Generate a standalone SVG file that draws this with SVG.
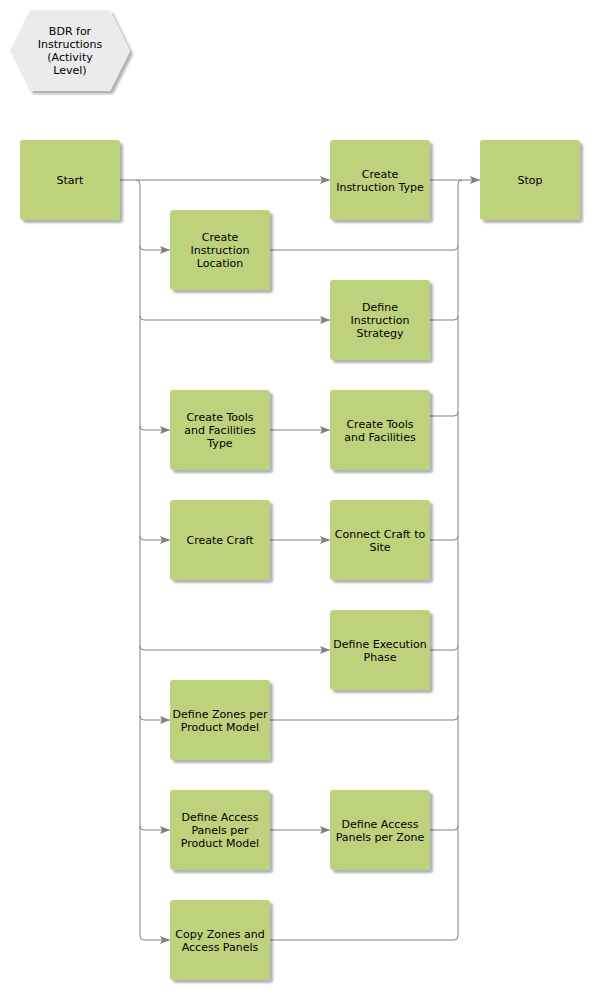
<svg xmlns="http://www.w3.org/2000/svg" width="590" height="990" viewBox="0 0 590 990">
<defs>
<filter id="sh" x="-10%" y="-10%" width="130%" height="130%">
<feDropShadow dx="3" dy="3" stdDeviation="1.2" flood-color="#000" flood-opacity="0.3"/>
</filter>
<marker id="ar" viewBox="0 0 10 8" refX="10" refY="4" markerWidth="10" markerHeight="8" markerUnits="userSpaceOnUse" orient="auto">
<path d="M0,0 L10,4 L0,8 L2,4 Z" fill="#808080"/>
</marker>
</defs>
<style>
.n{fill:#bdd27d;filter:url(#sh)}
.h{fill:#ebebeb;filter:url(#sh)}
text{font-family:"DejaVu Sans",Verdana,sans-serif;font-size:11px;fill:#000;text-anchor:middle}
.c path{fill:none;stroke:#808080;stroke-width:1}
.a{marker-end:url(#ar)}
</style>
<g id="title"><polygon class="h" points="10,51 30,10 110,10 130,51 110,91 30,91"/>
<text x="70" y="35">BDR for</text><text x="70" y="48">Instructions</text><text x="70" y="61">(Activity</text><text x="70" y="74">Level)</text></g>
<g class="c" id="connectors">
<path class="a" d="M120,180 H330"/>
<path class="a" d="M136,180 Q140,180 140,184 V936 Q140,940 144,940 H170"/>
<path class="a" d="M140,246 Q140,250 144,250 H170"/>
<path class="a" d="M140,316 Q140,320 144,320 H330"/>
<path class="a" d="M140,426 Q140,430 144,430 H170"/>
<path class="a" d="M140,536 Q140,540 144,540 H170"/>
<path class="a" d="M140,646 Q140,650 144,650 H330"/>
<path class="a" d="M140,716 Q140,720 144,720 H170"/>
<path class="a" d="M140,826 Q140,830 144,830 H170"/>
<path class="a" d="M270,430 H330"/>
<path class="a" d="M270,540 H330"/>
<path class="a" d="M270,830 H330"/>
<path class="a" d="M430,180 H480"/>
<path d="M270,940 H454 Q458,940 458,936 V184 Q458,180 462,180"/>
<path d="M270,250 H454 Q458,250 458,246"/>
<path d="M430,320 H454 Q458,320 458,316"/>
<path d="M430,416 H454 Q458,416 458,412"/>
<path d="M430,540 H454 Q458,540 458,536"/>
<path d="M430,650 H454 Q458,650 458,646"/>
<path d="M270,720 H454 Q458,720 458,716"/>
<path d="M430,830 H454 Q458,830 458,826"/>
</g>
<g id="start"><rect class="n" x="20" y="140" width="100" height="80" rx="3"/><text x="70" y="184">Start</text></g>
<g id="createInstructionType"><rect class="n" x="330" y="140" width="100" height="80" rx="3"/><text x="380" y="178">Create</text><text x="380" y="191">Instruction Type</text></g>
<g id="stop"><rect class="n" x="480" y="140" width="100" height="80" rx="3"/><text x="530" y="184">Stop</text></g>
<g id="createInstructionLocation"><rect class="n" x="170" y="210" width="100" height="80" rx="3"/><text x="220" y="241">Create</text><text x="220" y="254">Instruction</text><text x="220" y="267">Location</text></g>
<g id="defineInstructionStrategy"><rect class="n" x="330" y="280" width="100" height="80" rx="3"/><text x="380" y="311">Define</text><text x="380" y="324">Instruction</text><text x="380" y="337">Strategy</text></g>
<g id="createToolsType"><rect class="n" x="170" y="390" width="100" height="80" rx="3"/><text x="220" y="421">Create Tools</text><text x="220" y="434">and Facilities</text><text x="220" y="447">Type</text></g>
<g id="createTools"><rect class="n" x="330" y="390" width="100" height="80" rx="3"/><text x="380" y="428">Create Tools</text><text x="380" y="441">and Facilities</text></g>
<g id="createCraft"><rect class="n" x="170" y="500" width="100" height="80" rx="3"/><text x="220" y="544">Create Craft</text></g>
<g id="connectCraft"><rect class="n" x="330" y="500" width="100" height="80" rx="3"/><text x="380" y="538">Connect Craft to</text><text x="380" y="551">Site</text></g>
<g id="defineExecutionPhase"><rect class="n" x="330" y="610" width="100" height="80" rx="3"/><text x="380" y="648">Define Execution</text><text x="380" y="661">Phase</text></g>
<g id="defineZones"><rect class="n" x="170" y="680" width="100" height="80" rx="3"/><text x="220" y="718">Define Zones per</text><text x="220" y="731">Product Model</text></g>
<g id="defineAccessPanelsModel"><rect class="n" x="170" y="790" width="100" height="80" rx="3"/><text x="220" y="821">Define Access</text><text x="220" y="834">Panels per</text><text x="220" y="847">Product Model</text></g>
<g id="defineAccessPanelsZone"><rect class="n" x="330" y="790" width="100" height="80" rx="3"/><text x="380" y="828">Define Access</text><text x="380" y="841">Panels per Zone</text></g>
<g id="copyZones"><rect class="n" x="170" y="900" width="100" height="80" rx="3"/><text x="220" y="938">Copy Zones and</text><text x="220" y="951">Access Panels</text></g>
</svg>
